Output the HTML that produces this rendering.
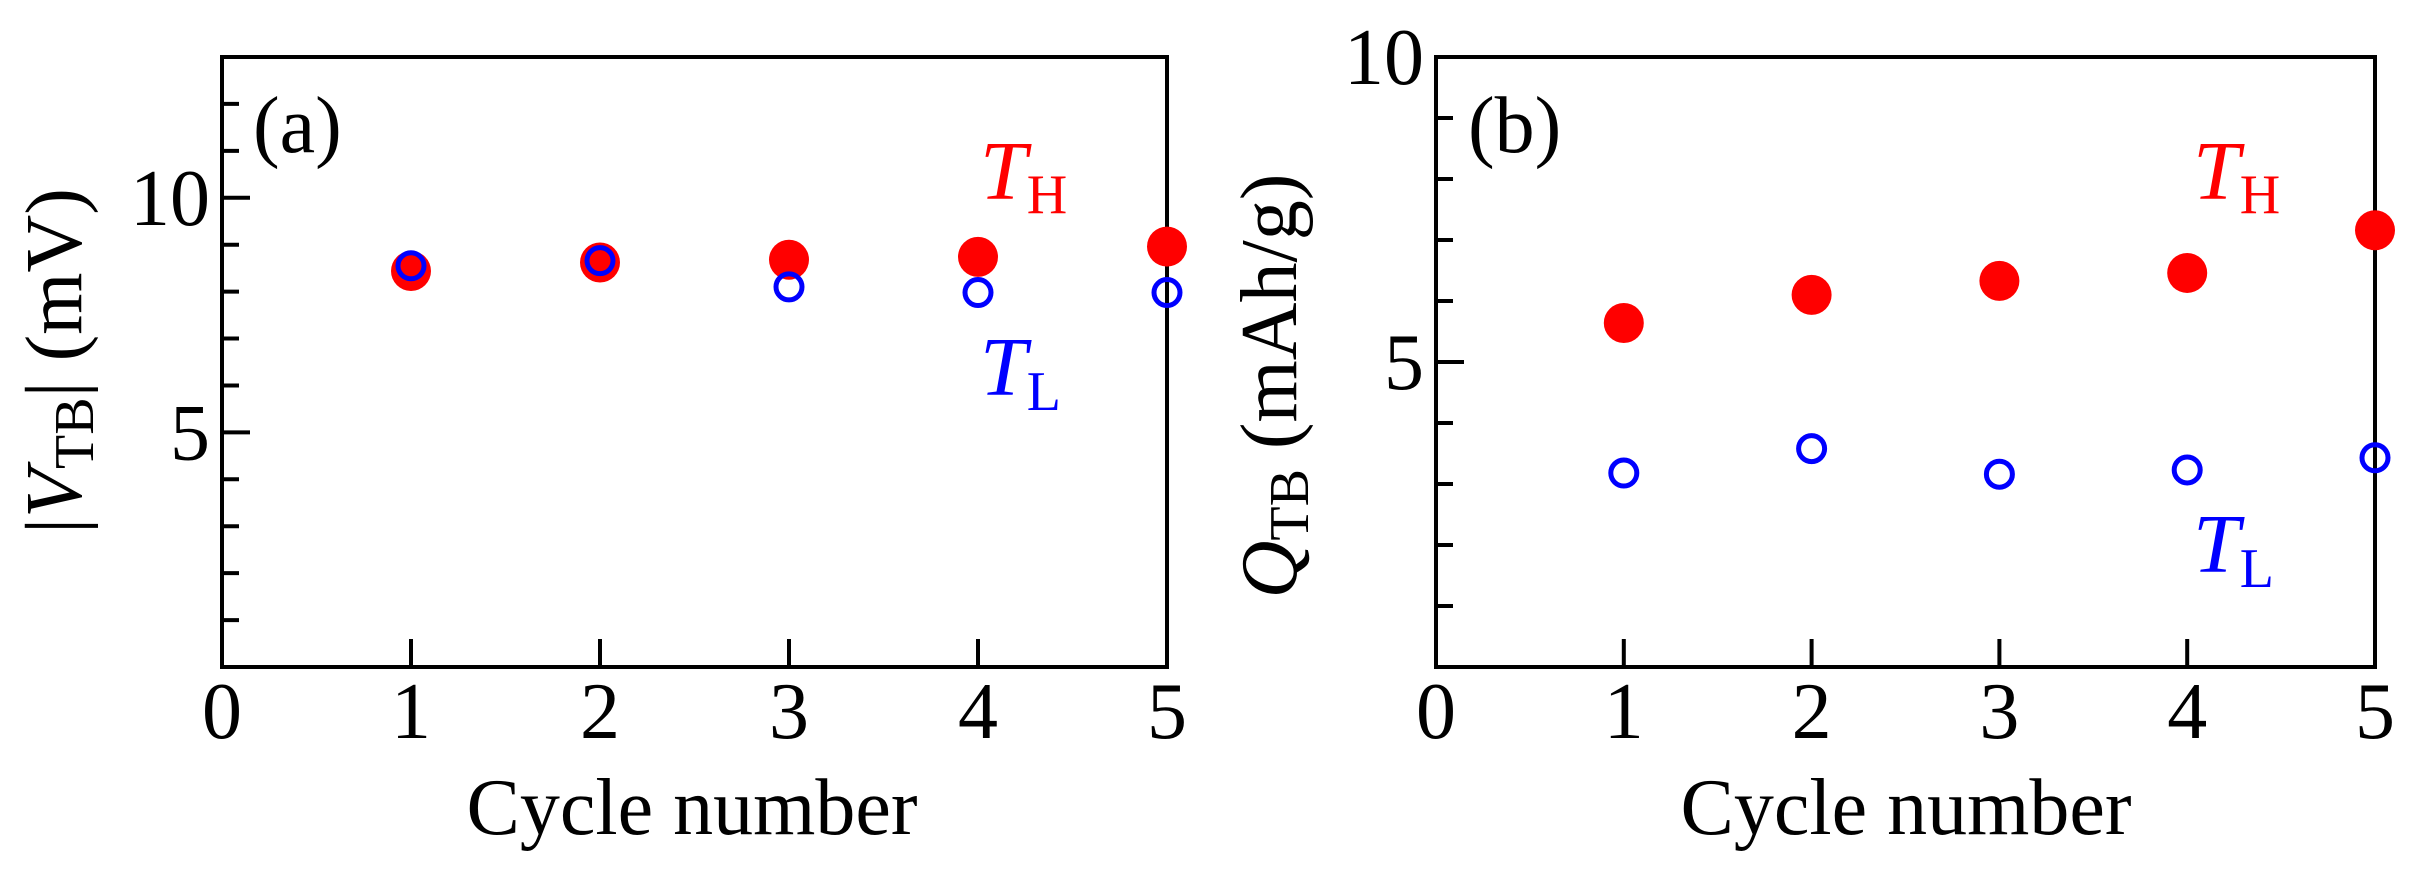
<!DOCTYPE html>
<html><head><meta charset="utf-8"><style>
html,body{margin:0;padding:0;background:#fff}
svg{display:block}
text{font-family:"Liberation Serif",serif}
</style></head><body>
<svg id="chart" width="2431" height="885" viewBox="0 0 2431 885" xmlns="http://www.w3.org/2000/svg">
<g id="pa"></g>
<g id="pb"></g>
<!-- static labels -->
<text x="253" y="152" font-size="80">(a)</text>
<text x="1468" y="152" font-size="80">(b)</text>
<text x="980" y="199" font-size="84" fill="#ff0000"><tspan font-style="italic">T</tspan><tspan font-size="56" dy="14">H</tspan></text>
<text x="980" y="395" font-size="84" fill="#0000ff"><tspan font-style="italic">T</tspan><tspan font-size="56" dy="15">L</tspan></text>
<text x="2193" y="199" font-size="84" fill="#ff0000"><tspan font-style="italic">T</tspan><tspan font-size="56" dy="14">H</tspan></text>
<text x="2193" y="572" font-size="84" fill="#0000ff"><tspan font-style="italic">T</tspan><tspan font-size="56" dy="15">L</tspan></text>
<text transform="translate(81,361) rotate(-90)" text-anchor="middle" font-size="80">|<tspan font-style="italic">V</tspan><tspan font-size="56" dy="12">TB</tspan><tspan dy="-12">| (mV)</tspan></text>
<text transform="translate(1296,386) rotate(-90)" text-anchor="middle" font-size="80"><tspan font-style="italic">Q</tspan><tspan font-size="56" dy="12">TB</tspan><tspan dy="-12"> (mAh/g)</tspan></text>
<text x="692" y="834" text-anchor="middle" font-size="80">Cycle number</text>
<text x="1906" y="834" text-anchor="middle" font-size="80">Cycle number</text>
</svg>
<script>
const cycles = [1, 2, 3, 4, 5];
const vTH = [8.44, 8.62, 8.68, 8.74, 8.96];
const vTL = [8.55, 8.66, 8.10, 7.98, 7.98];
const qTH = [5.64, 6.10, 6.33, 6.46, 7.16];
const qTL = [3.18, 3.58, 3.16, 3.23, 3.43];
const xTicks = [0, 1, 2, 3, 4, 5];
const yLabelsA = [5, 10];
const yLabelsB = [5, 10];

const NS = "http://www.w3.org/2000/svg";
function mk(parent, tag, attrs) {
  const e = document.createElementNS(NS, tag);
  for (const k in attrs) e.setAttribute(k, attrs[k]);
  parent.appendChild(e);
  return e;
}
function panel(g, x0, x1, y0, y1, yMax, yLabels, th, tl, pfx) {
  const sx = v => x0 + (x1 - x0) * v / 5;
  const sy = v => y1 - (y1 - y0) * v / yMax;
  const fr = mk(g, "rect", {x: x0, y: y0, width: x1 - x0, height: y1 - y0, fill: "none", stroke: "#000", "stroke-width": 4});
  
  
  for (let v = 1; v < yMax; v++) {
    const major = yLabels.includes(v);
    const t = mk(g, "line", {x1: x0, x2: x0 + (major ? 28 : 17), y1: sy(v), y2: sy(v), stroke: "#000", "stroke-width": 4});
    
    
  }
  for (const v of yLabels) {
    const t = mk(g, "text", {x: x0 - 12, y: sy(v) + 27, "text-anchor": "end", "font-size": 80});
    t.textContent = v;
    
    
  }
  for (const v of xTicks) {
    if (v > 0 && v < 5) {
      const t = mk(g, "line", {x1: sx(v), x2: sx(v), y1: y1, y2: y1 - 28, stroke: "#000", "stroke-width": 4});
      
      
    }
    const l = mk(g, "text", {x: sx(v), y: 738, "text-anchor": "middle", "font-size": 80});
    l.textContent = v;
    
    
  }
  cycles.forEach((c, i) => {
    const p = mk(g, "ellipse", {cx: sx(c), cy: sy(th[i]), rx: 20, ry: 20, fill: "#ff0000"});
    
    
  });
  cycles.forEach((c, i) => {
    const p = mk(g, "circle", {cx: sx(c), cy: sy(tl[i]), r: 13, fill: "#fff", "fill-opacity": 0, stroke: "#0000ff", "stroke-width": 5});
    
    
  });
}
panel(document.getElementById("pa"), 222, 1167, 57, 667, 13, yLabelsA, vTH, vTL, "a");
panel(document.getElementById("pb"), 1436, 2375, 57, 667, 10, yLabelsB, qTH, qTL, "b");
</script>
</body></html>
